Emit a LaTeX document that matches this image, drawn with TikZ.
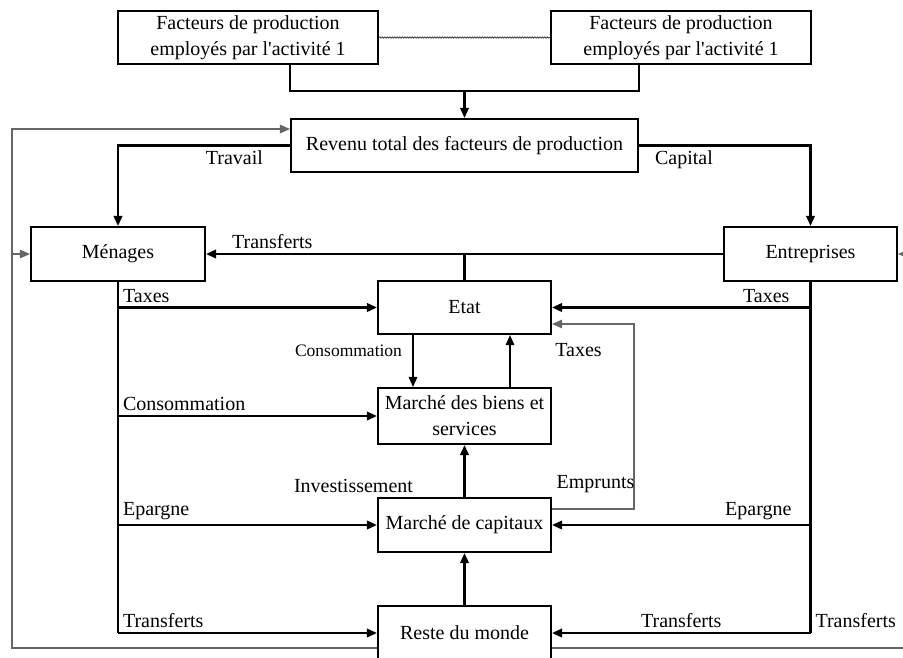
\documentclass[tikz,border=0pt]{standalone}
\usepackage{fontspec}
\setmainfont{Liberation Serif}[Ligatures=TeXOff]
\usepackage{tikz}
\usetikzlibrary{arrows.meta}
\usetikzlibrary{decorations.pathmorphing}

\begin{document}
\begin{tikzpicture}[x=1pt, y=-1pt, >={Triangle[length=10pt,width=8.5pt]}, line width=2.1pt, font=\fontsize{20}{26}\selectfont]
  \tikzstyle{box}=[draw, align=center, inner sep=0pt, minimum width=173pt, minimum height=54pt]
  \tikzstyle{lbl}=[inner sep=4pt]
  \tikzstyle{smalllbl}=[inner sep=2pt, font=\fontsize{17.5}{20}\selectfont]
  \tikzstyle{loopline}=[draw=black!60, line width=1.2pt]
  \tikzstyle{thinflow}=[line width=1.4pt]

  \useasboundingbox (0,0) rectangle (903,657);

  % boxes
  \node[box, minimum width=260pt, minimum height=53pt] (fp1) at (248,37.5) {Facteurs de production\\employés par l'activité 1};
  \node[box, minimum width=260pt, minimum height=53pt] (fp2) at (681,37.5) {Facteurs de production\\employés par l'activité 1};
  \node[box, minimum width=347pt, minimum height=53pt] (rev) at (464.5,145.5) {Revenu total des facteurs de production};
  \node[box, minimum width=174pt] (men) at (118,254) {Ménages};
  \node[box] (ent) at (810.5,254) {Entreprises};
  \node[box, minimum height=53pt] (etat) at (464.5,307.5) {Etat};
  \node[box, minimum height=56pt] (mbs) at (464.5,416) {Marché des biens et\\services};
  \node[box] (mc) at (464.5,525) {Marché de capitaux};
  \node[box] (rdm) at (464.5,633) {Reste du monde};

  \coordinate (join) at (464.5,91);
  \coordinate (ek) at (634,324);
  \coordinate (lt) at (12,129);
  \coordinate (rt) at (907,254);

  % facteurs -> revenu
  \draw[loopline, draw=black!75, line width=0.8pt, decorate, decoration={snake, amplitude=0.6pt, segment length=2.5pt}] (fp1.east) -- (fp2.west);
  \draw (fp1.south -| rev.west) |- (join) -| (fp2.south -| rev.east);
  \draw[->] (join) -- (rev);

  % revenu -> agents
  \draw[->] (rev.west) -| node[lbl, pos=0, below left, xshift=-22pt] (trav) {Travail} (men.north);
  \draw[->] (rev.east) -| node[lbl, pos=0, below right, xshift=11pt] (cap) {Capital} (ent.north);
  \draw[->] (ent.west) -- node[lbl, pos=1, above right, xshift=21pt] (trf0) {Transferts} (men.east);
  \draw (etat.north) -- (etat.north |- men.east);

  % menages
  \draw (men.south) -- (men.south |- rdm.west);
  \draw[->] (men.south |- etat.west) -- node[lbl, pos=0, above right] (tx1) {Taxes} (etat.west);
  \draw[->] (men.south |- mbs.west) -- node[lbl, pos=0, above right] (cons1) {Consommation} (mbs.west);
  \draw[->] (men.south |- mc.west) -- node[lbl, pos=0, above right] (ep1) {Epargne} (mc.west);
  \draw[->] (men.south |- rdm.west) -- node[lbl, pos=0, above right] (trf1) {Transferts} (rdm.west);

  % entreprises
  \draw (ent.south) -- (ent.south |- rdm.east);
  \draw[->] (ent.south |- etat.east) -- node[lbl, pos=0, above left, xshift=-16pt] (tx2) {Taxes} (etat.east);
  \draw[->] (ent.south |- mc.east) -- node[lbl, pos=0, above left, xshift=-14pt] (ep2) {Epargne} (mc.east);
  \draw[->] (ent.south |- rdm.east) -- node[lbl, midway, above] (trf2) {Transferts}
    node[lbl, pos=0, above right] (trf3) {Transferts} (rdm.east);

  % centre
  \draw[->, thinflow] ([xshift=-51.5pt]etat.south) -- ([xshift=-51.5pt]mbs.north);
  \draw[->, thinflow] ([xshift=45.5pt]mbs.north) -- ([xshift=45.5pt]etat.south);
  \draw[->] (mc) -- (mbs);
  \draw[->] (rdm) -- (mc);
  \node[smalllbl] (cons0) at (348.5,350.5) {Consommation};
  \node[lbl] (tx3) at (578.5,350) {Taxes};
  \node[lbl] (inv) at (353.5,485.5) {Investissement};

  % bouclages
  \draw[->, loopline] ([yshift=16pt]mc.east) -| node[lbl, pos=0, above right, yshift=12pt] (emp) {Emprunts} (ek) -- (ek -| etat.east);
  \draw[->, loopline] ([yshift=-15pt]rdm.west) -| (lt) -- (lt -| rev.west);
  \draw[->, loopline] (lt |- men.west) -- (men.west);
  \draw[->, loopline] ([yshift=-15pt]rdm.east) -| (rt) -- (ent.east);
\end{tikzpicture}
\end{document}
